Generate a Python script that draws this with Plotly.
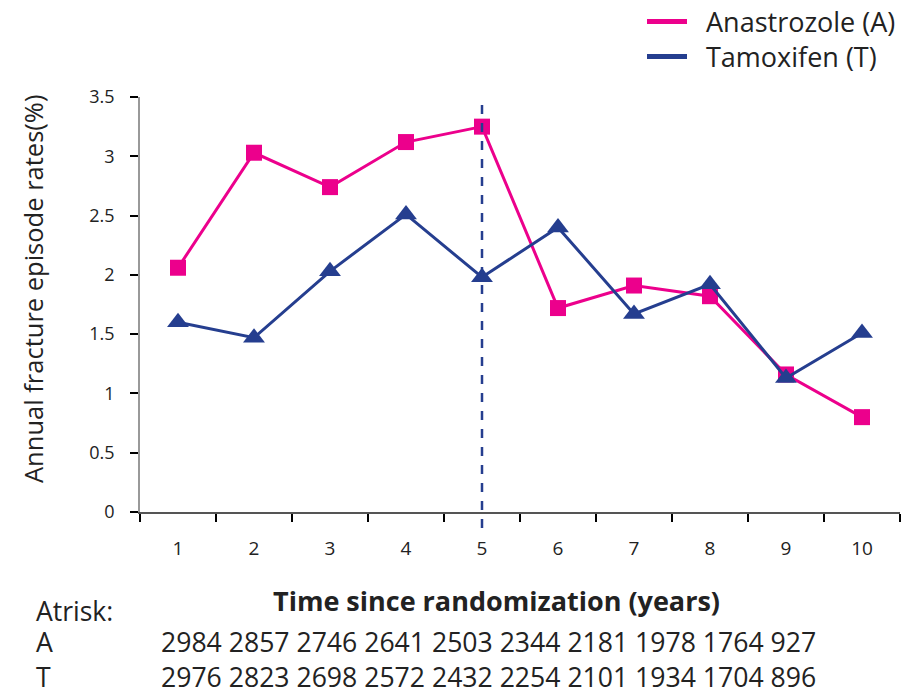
import plotly.graph_objects as go

years = ["1", "2", "3", "4", "5", "6", "7", "8", "9", "10"]
anastrozole = [2.06, 3.03, 2.74, 3.12, 3.25, 1.72, 1.91, 1.82, 1.16, 0.80]
tamoxifen = [1.60, 1.47, 2.03, 2.51, 1.98, 2.40, 1.67, 1.92, 1.13, 1.51]
at_risk_a = [2984, 2857, 2746, 2641, 2503, 2344, 2181, 1978, 1764, 927]
at_risk_t = [2976, 2823, 2698, 2572, 2432, 2254, 2101, 1934, 1704, 896]
y_ticks = [0, 0.5, 1, 1.5, 2, 2.5, 3, 3.5]
y_tick_text = ["0", "0.5", "1", "1.5", "2", "2.5", "3", "3.5"]
series_names = ["Anastrozole (A)", "Tamoxifen (T)"]
row_labels = ["A", "T"]

PINK = "#EC008C"
NAVY = "#253E8F"
FONT = "Open Sans"
TXT = "#222"

W, H = 905, 694
L, R, T, B = 140, 5, 97, 182
pw, ph = W - L - R, H - T - B


def px(x):
    return (x - L) / pw


def py(y):
    return (H - B - y) / ph


fig = go.Figure()
fig.add_trace(go.Scatter(x=years, y=anastrozole, mode="lines+markers",
                         name=series_names[0],
                         line=dict(color=PINK, width=3),
                         marker=dict(symbol="square", size=16, color=PINK),
                         showlegend=False))
fig.add_trace(go.Scatter(x=years, y=tamoxifen, mode="lines+markers",
                         name=series_names[1],
                         line=dict(color=NAVY, width=3),
                         marker=dict(symbol="triangle-up", size=19, color=NAVY),
                         showlegend=False))

# dashed reference line at year 5
fig.add_shape(type="line", xref="x", yref="paper", x0=4, x1=4, y0=py(528), y1=py(100),
              line=dict(color=NAVY, width=2.5, dash="dash"))

# manual legend (lines only): one two-line text block, plus line samples
LEG_FS = 27
leg_c = 39
leg_gap = 1.3 * LEG_FS
for i, col in enumerate([PINK, NAVY]):
    yy = leg_c + (i - 0.5) * leg_gap
    fig.add_shape(type="line", xref="paper", yref="paper",
                  x0=px(647), x1=px(687), y0=py(yy), y1=py(yy),
                  line=dict(color=col, width=5))
fig.add_annotation(text="<br>".join(series_names), x=px(705), y=py(leg_c),
                   xref="paper", yref="paper", align="left",
                   xanchor="left", yanchor="middle", showarrow=False, borderpad=0,
                   font=dict(family=FONT, size=LEG_FS, color=TXT))

fig.update_xaxes(type="category", range=[-0.5, 9.5], tickson="boundaries",
                 ticks="outside", ticklen=8, tickcolor="black", tickwidth=1.5,
                 showline=True, linecolor="#555", linewidth=1.5, showgrid=False,
                 zeroline=False, ticklabelstandoff=18,
                 tickfont=dict(family=FONT, size=19, color=TXT))
fig.update_yaxes(range=[0, 3.5], tickvals=y_ticks, ticktext=y_tick_text,
                 ticks="outside", ticklen=8, tickcolor="black", tickwidth=1.5,
                 showline=True, linecolor="#999", linewidth=1.5, showgrid=False,
                 zeroline=False, ticklabelstandoff=12,
                 tickfont=dict(family=FONT, size=18, color=TXT))

fig.add_annotation(text="Annual fracture episode rates(%)", textangle=-90,
                   x=px(33), y=py(289), xref="paper", yref="paper", showarrow=False,
                   xanchor="center", yanchor="middle",
                   font=dict(family=FONT, size=25.5, color=TXT))
fig.add_annotation(text="<b>Time since randomization (years)</b>",
                   x=px(496), y=py(600), xref="paper", yref="paper", showarrow=False,
                   xanchor="center", yanchor="middle",
                   font=dict(family=FONT, size=27, color=TXT))
fig.add_annotation(text="Atrisk:", x=px(35), y=py(611), xref="paper", yref="paper",
                   xanchor="left", yanchor="middle", showarrow=False, borderpad=0,
                   font=dict(family=FONT, size=26.5, color=TXT))

# at-risk table: two-line blocks (labels, numbers)
ROW_C = 659
fig.add_annotation(text="<br>".join(row_labels), x=px(35), y=py(ROW_C),
                   xref="paper", yref="paper", align="left",
                   xanchor="left", yanchor="middle", showarrow=False, borderpad=0,
                   font=dict(family=FONT, size=26.6, color=TXT))
rows_txt = "<br>".join(" ".join(str(v) for v in vals) for vals in [at_risk_a, at_risk_t])
fig.add_annotation(text=rows_txt, x=px(160), y=py(ROW_C),
                   xref="paper", yref="paper", align="left",
                   xanchor="left", yanchor="middle", showarrow=False, borderpad=0,
                   font=dict(family=FONT, size=26.6, color=TXT))

fig.update_layout(width=W, height=H, margin=dict(l=L, r=R, t=T, b=B, autoexpand=False),
                  plot_bgcolor="white", paper_bgcolor="white", showlegend=False)

fig.write_html("out.html", config={"displayModeBar": False},
               post_script="document.body.style.margin='0px';")
